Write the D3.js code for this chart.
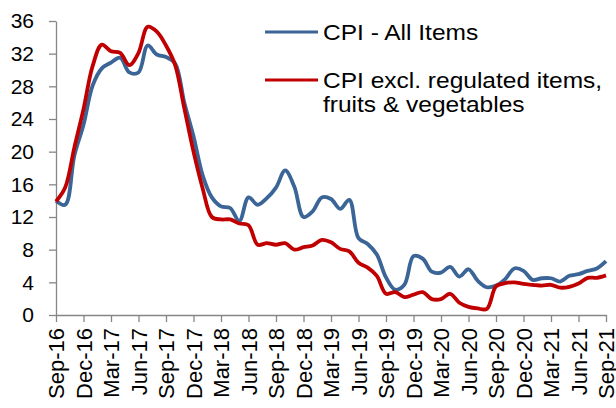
<!DOCTYPE html>
<html>
<head>
<meta charset="utf-8">
<script src="https://cdn.jsdelivr.net/npm/d3@7/dist/d3.min.js"></script>
<style>
    body { margin: 0; background: #fff; }
    text { font-family: "Liberation Sans", Arial, sans-serif; fill: #000; }
</style>
</head>
<body>
<div id="plot"></div>
<script>
// Data
// =================================
var months = [
    "Sep-16", "Oct-16", "Nov-16", "Dec-16", "Jan-17", "Feb-17", "Mar-17", "Apr-17", "May-17", "Jun-17",
    "Jul-17", "Aug-17", "Sep-17", "Oct-17", "Nov-17", "Dec-17", "Jan-18", "Feb-18", "Mar-18", "Apr-18",
    "May-18", "Jun-18", "Jul-18", "Aug-18", "Sep-18", "Oct-18", "Nov-18", "Dec-18", "Jan-19", "Feb-19",
    "Mar-19", "Apr-19", "May-19", "Jun-19", "Jul-19", "Aug-19", "Sep-19", "Oct-19", "Nov-19", "Dec-19",
    "Jan-20", "Feb-20", "Mar-20", "Apr-20", "May-20", "Jun-20", "Jul-20", "Aug-20", "Sep-20", "Oct-20",
    "Nov-20", "Dec-20", "Jan-21", "Feb-21", "Mar-21", "Apr-21", "May-21", "Jun-21", "Jul-21", "Aug-21",
    "Sep-21"
];

var cpiAll = [
    14.0, 13.5, 19.5, 23.3, 28.1, 30.2, 30.9, 31.5, 29.7, 29.7,
    33.0, 31.9, 31.6, 30.8, 26.0, 21.9, 17.1, 14.4, 13.3, 13.1,
    11.5, 14.4, 13.5, 14.3, 15.6, 17.7, 15.7, 12.0, 12.7, 14.4,
    14.2, 13.0, 14.1, 9.4, 8.7, 7.4, 4.6, 3.1, 3.7, 7.2,
    6.9, 5.3, 5.2, 5.9, 4.7, 5.6, 4.2, 3.4, 3.6, 4.4,
    5.7, 5.4, 4.3, 4.5, 4.5, 4.1, 4.8, 5.0, 5.4, 5.7,
    6.6
];

var cpiCore = [
    13.9, 15.6, 20.5, 25.2, 30.5, 33.1, 32.3, 32.1, 30.6, 32.1,
    35.3, 34.7, 33.0, 30.6, 25.3, 20.0, 15.5, 12.0, 11.7, 11.7,
    11.2, 11.0, 8.6, 8.8, 8.6, 8.8, 8.0, 8.3, 8.5, 9.2,
    8.9, 8.1, 7.8, 6.4, 5.8, 4.8, 2.6, 2.8, 2.2, 2.5,
    2.8, 1.95, 1.95, 2.6, 1.5, 1.0, 0.8, 0.75, 3.5, 3.9,
    4.0, 3.8, 3.7, 3.6, 3.7, 3.35, 3.45, 3.85, 4.55, 4.55,
    4.85
];

var yTicks = [0, 4, 8, 12, 16, 20, 24, 28, 32, 36];
var xTicks = months.filter((m, i) => i % 3 === 0);

var seriesNames = [
    ["CPI - All Items"],
    ["CPI excl. regulated items,", "fruits & vegetables"]
];
var seriesColors = ["#3A6596", "#C00000"];

/* Step 1
 * Workspace area
 */
// =================================
var svgWidth = 616;
var svgHeight = 408;

var margin = {
    top: 21,
    right: 10,
    bottom: 93,
    left: 56
};

var width = svgWidth - margin.left - margin.right;
var height = svgHeight - margin.top - margin.bottom;

var svg = d3.select("#plot")
    .append("svg")
    .attr("width", svgWidth)
    .attr("height", svgHeight);

var chartGroup = svg.append("g")
    .attr("transform", `translate(${margin.left}, ${margin.top})`);

/* Step 2
 * Scales and axes
 */
// =================================
var xScale = d3.scalePoint()
    .domain(months)
    .range([0, width]);

var yScale = d3.scaleLinear()
    .domain([0, 36])
    .range([height, 0]);

var leftAxis = d3.axisLeft(yScale)
    .tickValues(yTicks)
    .tickSize(7)
    .tickSizeOuter(0)
    .tickPadding(15);

var bottomAxis = d3.axisBottom(xScale)
    .tickValues(xTicks)
    .tickSize(7)
    .tickSizeOuter(0);

var yAxisG = chartGroup.append("g")
    .call(leftAxis);
yAxisG.selectAll("text")
    .attr("font-size", "21px")
    .attr("font-family", "'Liberation Sans', Arial, sans-serif");

var xAxisG = chartGroup.append("g")
    .attr("transform", `translate(0, ${height})`)
    .call(bottomAxis);
xAxisG.selectAll("text")
    .attr("font-size", "22px")
    .attr("font-family", "'Liberation Sans', Arial, sans-serif")
    .attr("transform", "rotate(-90)")
    .attr("text-anchor", "end")
    .attr("x", -13)
    .attr("y", 0)
    .attr("dy", "0.36em");

chartGroup.selectAll(".domain, .tick line")
    .attr("stroke", "#868686")
    .attr("stroke-width", 1.3);

/* Step 3
 * Lines
 */
// =================================
var line = d3.line()
    .x((d, i) => xScale(months[i]))
    .y(d => yScale(d))
    .curve(d3.curveCatmullRom);

[cpiAll, cpiCore].forEach(function (series, k) {
    chartGroup.append("path")
        .datum(series)
        .attr("fill", "none")
        .attr("stroke", seriesColors[k])
        .attr("stroke-width", 3.8)
        .attr("stroke-linejoin", "round")
        .attr("d", line);
});

/* Step 4
 * Legend
 */
// =================================
var legendY = [32, 80];
var legend = svg.append("g");

seriesNames.forEach(function (name, k) {
    legend.append("line")
        .attr("x1", 265)
        .attr("x2", 318)
        .attr("y1", legendY[k])
        .attr("y2", legendY[k])
        .attr("stroke", seriesColors[k])
        .attr("stroke-width", 3.2);

    name.forEach(function (txt, j) {
        legend.append("text")
            .attr("transform", `translate(323, ${legendY[k] + j * 24}) scale(1.14, 1)`)
            .attr("dy", "0.36em")
            .attr("font-size", "21.5px")
            .text(txt);
    });
});
</script>
</body>
</html>
